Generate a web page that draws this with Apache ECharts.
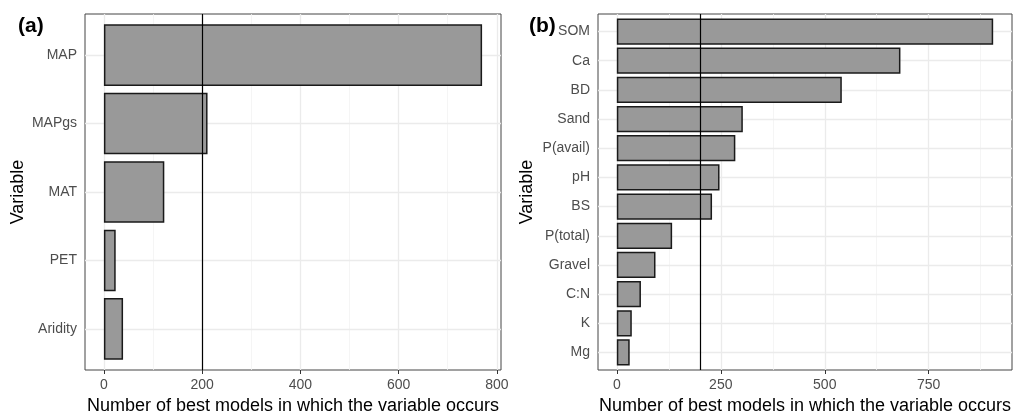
<!DOCTYPE html>
<html>
<head>
<meta charset="utf-8">
<script src="https://cdn.jsdelivr.net/npm/echarts@6/dist/echarts.min.js"></script>
<style>html,body{margin:0;padding:0;background:#fff}#c{width:1014px;height:414px}</style>
</head>
<body>
<div id="c"></div>
<script>
// ---- data ----
const catsA = ['MAP', 'MAPgs', 'MAT', 'PET', 'Aridity'];
const valsA = [770, 211, 123, 24, 39];
const ticksA = [0, 200, 400, 600, 800];
const minorA = [100, 300, 500, 700];

const catsB = ['SOM', 'Ca', 'BD', 'Sand', 'P(avail)', 'pH', 'BS', 'P(total)', 'Gravel', 'C:N', 'K', 'Mg'];
const valsB = [905, 682, 541, 303, 285, 247, 229, 133, 93, 58, 36, 31];
const ticksB = [0, 250, 500, 750];
const minorB = [125, 375, 625, 875];

const threshold = 200;
const xTitle = 'Number of best models in which the variable occurs';
const yTitle = 'Variable';

// ---- layout ----
const FONT = "'Liberation Sans', Arial, sans-serif";
const frameTop = 14, frameH = 356;
const panels = [
  {label: '(a)', labelLeft: 13, left: 85, width: 416, cats: catsA, vals: valsA, ticks: ticksA, minor: minorA, nameGap: 58},
  {label: '(b)', labelLeft: 524, left: 598, width: 414, cats: catsB, vals: valsB, ticks: ticksB, minor: minorB, nameGap: 62}
];

const option = {animation: false, backgroundColor: '#fff', textStyle: {fontFamily: FONT},
  title: [], grid: [], xAxis: [], yAxis: [], series: []};

panels.forEach((p, i) => {
  const maxV = Math.max.apply(null, p.vals);
  const xmin = -0.05 * maxV, xmax = 1.05 * maxV;
  const n = p.cats.length;
  const unit = frameH / (n - 1 + 1.2);
  const fg = i * 2, ig = i * 2 + 1;

  option.title.push({text: p.label, left: p.labelLeft, top: 11,
    textStyle: {fontSize: 21, fontWeight: 'bold', color: '#000', fontFamily: FONT}});

  // frame grid
  option.grid.push({left: p.left, top: frameTop, width: p.width, height: frameH,
    outerBoundsMode: 'none', containLabel: false,
    show: true, borderColor: '#444', borderWidth: 1, backgroundColor: '#fff'});
  // inner grid (category bands, ggplot-style 0.6 padding)
  option.grid.push({left: p.left, top: frameTop + 0.1 * unit, width: p.width, height: n * unit,
    outerBoundsMode: 'none', containLabel: false});

  option.xAxis.push({type: 'value', gridIndex: fg, min: xmin, max: xmax,
    axisLine: {show: false}, splitLine: {show: false},
    axisTick: {show: true, length: 4, customValues: p.ticks, lineStyle: {color: '#333', width: 1}},
    axisLabel: {customValues: p.ticks, fontSize: 14, color: '#4d4d4d', margin: 8, fontFamily: FONT},
    name: xTitle, nameLocation: 'middle', nameGap: 26,
    nameTextStyle: {fontSize: 18, color: '#000', fontFamily: FONT}});
  option.xAxis.push({type: 'value', gridIndex: ig, min: xmin, max: xmax, show: false});

  option.yAxis.push({type: 'value', gridIndex: fg, min: 0, max: 1, show: false});
  option.yAxis.push({type: 'category', gridIndex: ig, data: p.cats, inverse: true,
    axisLine: {show: false}, splitLine: {show: false},
    axisTick: {show: true, length: 4, alignWithLabel: true, lineStyle: {color: '#333', width: 1}},
    axisLabel: {fontSize: 14, color: '#4d4d4d', margin: 8, fontFamily: FONT},
    name: yTitle, nameLocation: 'middle', nameGap: p.nameGap,
    nameTextStyle: {fontSize: 18, color: '#000', fontFamily: FONT}});

  const noLbl = {show: false};
  // vertical grid lines (full frame height)
  option.series.push({type: 'line', xAxisIndex: fg, yAxisIndex: fg, data: [], silent: true, z: 1,
    markLine: {silent: true, symbol: ['none', 'none'], label: noLbl, animation: false, z: 1,
      data: p.minor.map(v => ({xAxis: v, lineStyle: {color: '#f3f3f3', width: 0.8, type: 'solid'}}))
        .concat(p.ticks.map(v => ({xAxis: v, lineStyle: {color: '#ebebeb', width: 1.3, type: 'solid'}})))}});
  // horizontal grid lines at category centres
  option.series.push({type: 'line', xAxisIndex: ig, yAxisIndex: ig, data: [], silent: true, z: 1,
    markLine: {silent: true, symbol: ['none', 'none'], label: noLbl, animation: false, z: 1,
      data: p.cats.map(c => ({yAxis: c, lineStyle: {color: '#ebebeb', width: 1.3, type: 'solid'}}))}});
  // bars
  option.series.push({type: 'bar', xAxisIndex: ig, yAxisIndex: ig, data: p.vals, barWidth: '90%', z: 3,
    itemStyle: {color: '#999999', borderColor: '#1a1a1a', borderWidth: 1.5}, silent: true});
  // reference line at threshold
  option.series.push({type: 'line', xAxisIndex: fg, yAxisIndex: fg, data: [], silent: true, z: 5,
    markLine: {silent: true, symbol: ['none', 'none'], label: noLbl, animation: false, z: 6,
      data: [{xAxis: threshold, lineStyle: {color: '#000', width: 1.2, type: 'solid'}}]}});
});

const chart = echarts.init(document.getElementById('c'), null, {renderer: 'canvas'});
chart.setOption(option);
</script>
</body>
</html>
